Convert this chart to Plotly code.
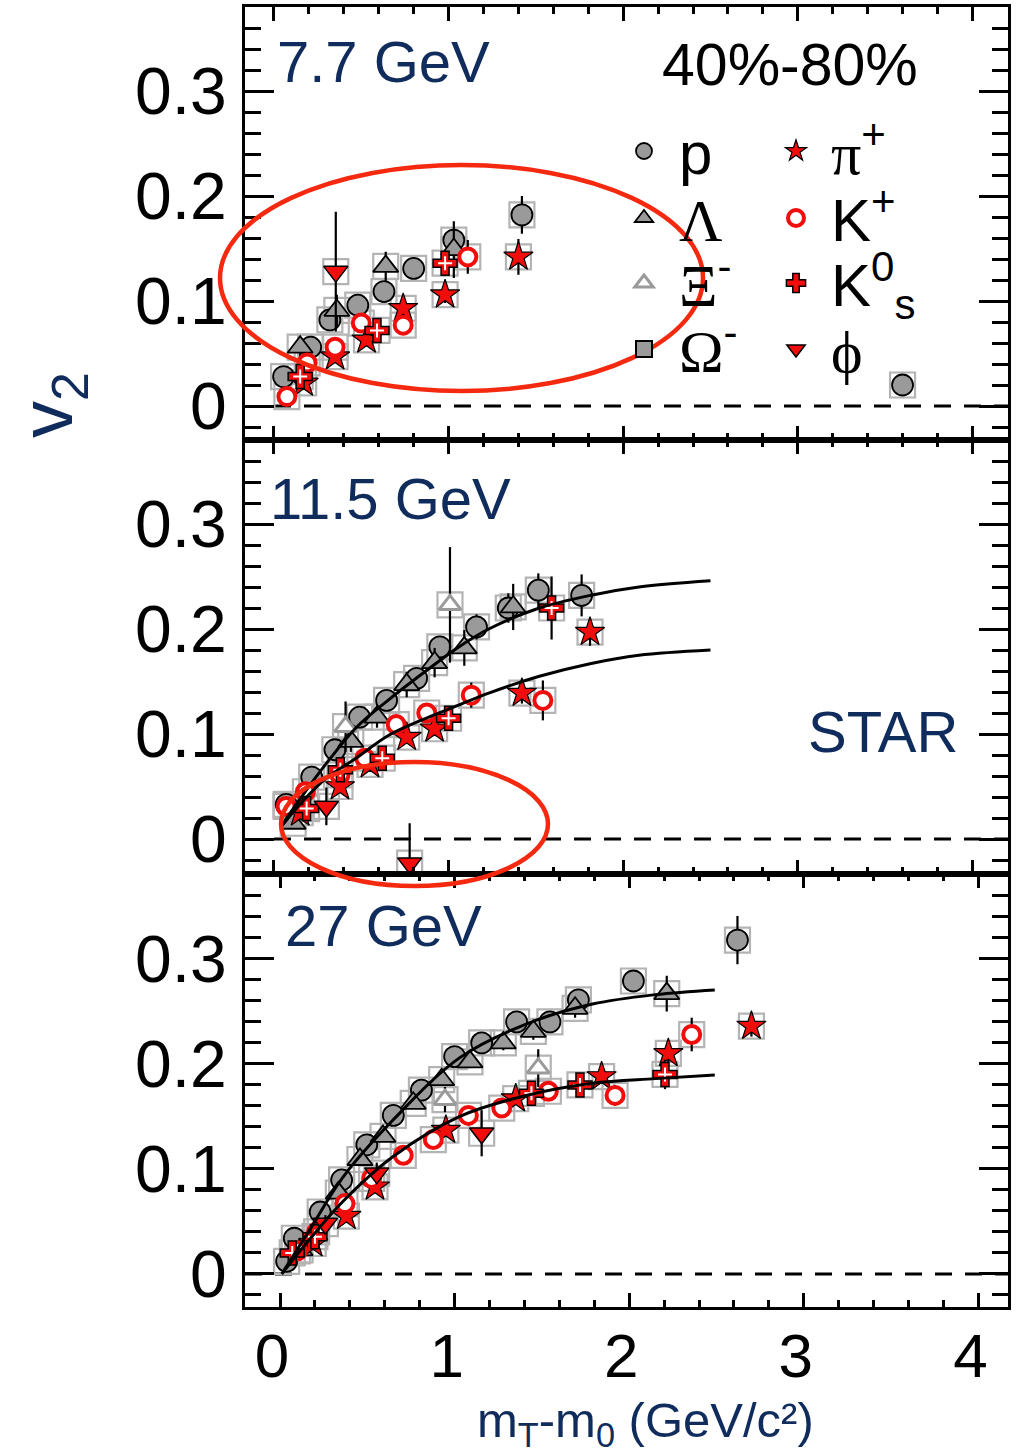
import plotly.graph_objects as go

# ---------------- data: 7.7 GeV ----------------
p77_p_x = [0.055, 0.21, 0.32, 0.48, 0.63, 0.80, 1.03, 1.42, 3.60]
p77_p_y = [0.028, 0.056, 0.082, 0.096, 0.109, 0.131, 0.158, 0.182, 0.020]
p77_p_e = [0.005, 0.006, 0.008, 0.008, 0.008, 0.008, 0.010, 0.018, 0.010]
p77_lam_x = [0.15, 0.36, 0.64, 1.03]
p77_lam_y = [0.056, 0.091, 0.133, 0.149]
p77_lam_e = [0.010, 0.015, 0.014, 0.027]
p77_pi_x = [0.17, 0.35, 0.53, 0.74, 0.98, 1.40]
p77_pi_y = [0.022, 0.047, 0.063, 0.093, 0.106, 0.142]
p77_pi_e = [0.004, 0.005, 0.005, 0.006, 0.008, 0.017]
p77_kp_x = [0.074, 0.19, 0.35, 0.50, 0.74, 1.11]
p77_kp_y = [0.009, 0.041, 0.056, 0.079, 0.077, 0.142]
p77_kp_e = [0.003, 0.004, 0.005, 0.006, 0.006, 0.016]
p77_k0_x = [0.15, 0.59, 0.98]
p77_k0_y = [0.028, 0.072, 0.136]
p77_k0_e = [0.005, 0.008, 0.012]
p77_phi_x = [0.354]
p77_phi_y = [0.128]
p77_phi_e = [0.057]

# ---------------- data: 11.5 GeV ----------------
p115_p_x = [0.07, 0.216, 0.349, 0.49, 0.645, 0.817, 0.95, 1.16, 1.342, 1.514, 1.762]
p115_p_y = [0.033, 0.059, 0.085, 0.116, 0.132, 0.153, 0.183, 0.202, 0.220, 0.237, 0.232]
p115_p_e = [0.004, 0.005, 0.006, 0.007, 0.008, 0.009, 0.010, 0.012, 0.014, 0.016, 0.020]
p115_lam_x = [0.11, 0.44, 0.59, 0.76, 0.92, 1.09, 1.37]
p115_lam_y = [0.015, 0.093, 0.116, 0.147, 0.168, 0.182, 0.221]
p115_lam_e = [0.005, 0.010, 0.010, 0.012, 0.014, 0.017, 0.022]
p115_xi_x = [0.41, 1.008]
p115_xi_y = [0.107, 0.223]
p115_xi_e = [0.024, 0.055]
p115_pi_x = [0.15, 0.378, 0.55, 0.76, 0.92, 1.42, 1.81]
p115_pi_y = [0.025, 0.050, 0.071, 0.097, 0.105, 0.139, 0.197]
p115_pi_e = [0.003, 0.004, 0.005, 0.006, 0.007, 0.010, 0.013]
p115_kp_x = [0.069, 0.18, 0.378, 0.52, 0.70, 0.875, 1.13, 1.54]
p115_kp_y = [0.031, 0.045, 0.061, 0.077, 0.109, 0.120, 0.137, 0.132]
p115_kp_e = [0.004, 0.005, 0.006, 0.007, 0.008, 0.009, 0.012, 0.019]
p115_k0_x = [0.187, 0.38, 0.62, 1.00, 1.59]
p115_k0_y = [0.029, 0.066, 0.077, 0.115, 0.220]
p115_k0_e = [0.004, 0.006, 0.008, 0.010, 0.030]
p115_phi_x = [0.30, 0.777]
p115_phi_y = [0.031, -0.023]
p115_phi_e = [0.018, 0.038]
fit115_x = [0.04, 0.17, 0.30, 0.47, 0.66, 0.87, 1.05, 1.23, 1.52, 1.81, 2.09, 2.50]
fit115_bary_y = [0.012, 0.043, 0.072, 0.106, 0.133, 0.160, 0.182, 0.200, 0.220, 0.232, 0.240, 0.246]
fit115_meson_y = [0.012, 0.037, 0.058, 0.077, 0.099, 0.115, 0.127, 0.139, 0.155, 0.167, 0.175, 0.180]

# ---------------- data: 27 GeV ----------------
p27_p_x = [0.038, 0.082, 0.23, 0.353, 0.497, 0.649, 0.81, 1.00, 1.155, 1.355, 1.546, 1.709, 2.024, 2.62]
p27_p_y = [0.012, 0.034, 0.059, 0.0895, 0.123, 0.151, 0.175, 0.207, 0.220, 0.240, 0.240, 0.261, 0.279, 0.318]
p27_p_e = [0.002, 0.002, 0.003, 0.003, 0.004, 0.004, 0.005, 0.005, 0.006, 0.006, 0.007, 0.008, 0.010, 0.023]
p27_lam_x = [0.115, 0.334, 0.458, 0.59, 0.763, 0.926, 1.088, 1.279, 1.451, 1.69, 2.215]
p27_lam_y = [0.023, 0.077, 0.109, 0.131, 0.1625, 0.185, 0.202, 0.220, 0.231, 0.253, 0.267]
p27_lam_e = [0.003, 0.004, 0.004, 0.005, 0.005, 0.006, 0.006, 0.007, 0.008, 0.009, 0.017]
p27_xi_x = [0.945, 1.479]
p27_xi_y = [0.166, 0.196]
p27_xi_e = [0.012, 0.018]
p27_pi_x = [0.19, 0.38, 0.544, 0.95, 1.35, 1.842, 2.224, 2.70]
p27_pi_y = [0.029, 0.055, 0.083, 0.137, 0.167, 0.188, 0.210, 0.236]
p27_pi_e = [0.002, 0.003, 0.003, 0.005, 0.006, 0.007, 0.009, 0.010]
p27_kp_x = [0.10, 0.21, 0.372, 0.525, 0.706, 0.878, 1.079, 1.27, 1.537, 1.919, 2.358]
p27_kp_y = [0.022, 0.040, 0.067, 0.091, 0.113, 0.128, 0.151, 0.158, 0.174, 0.170, 0.228]
p27_kp_e = [0.002, 0.003, 0.003, 0.004, 0.004, 0.005, 0.006, 0.007, 0.008, 0.010, 0.016]
p27_k0_x = [0.07, 0.20, 1.44, 1.718, 2.205]
p27_k0_y = [0.020, 0.0355, 0.172, 0.180, 0.190]
p27_k0_e = [0.002, 0.003, 0.006, 0.007, 0.014]
p27_phi_x = [0.26, 0.554, 1.155]
p27_phi_y = [0.048, 0.096, 0.134]
p27_phi_e = [0.008, 0.010, 0.022]
fit27_x = [0.01, 0.17, 0.36, 0.65, 1.03, 1.41, 1.79, 2.15, 2.49]
fit27_bary_y = [0.0, 0.042, 0.092, 0.147, 0.206, 0.238, 0.257, 0.266, 0.2705]
fit27_meson_y = [0.0, 0.033, 0.069, 0.112, 0.150, 0.170, 0.1816, 0.186, 0.1895]

energy_labels = ["7.7 GeV", "11.5 GeV", "27 GeV"]
centrality_label = "40%-80%"
experiment_label = "STAR"
x_title = "m<sub>T</sub>-m<sub>0</sub> (GeV/c²)"
y_title = "v<sub>2</sub>"

# ---------------- styling ----------------
FONT = "Liberation Sans, Arial, Helvetica, sans-serif"
SERIF = "Liberation Serif"
NAVY = "#0f2c5c"
GRAY = "#9a9a9a"
RED = "#f20d0d"
SYS = "#b4b4b4"

W, H = 1025, 1454
ML, MR, MT, MB = 245, 17, 7, 147
PW, PH = W - ML - MR, H - MT - MB


def pxx(X):
    return (X - ML) / PW


def pxy(Y):
    return 1 - (Y - MT) / PH


def grk(s):
    return "<span style='font-family:%s'>%s</span>" % (SERIF, s)


SP = "\u2005"
styles = {
    "p": dict(name=SP + "p", symbol="circle", color=GRAY, lc="black", lw=1.8, size=21),
    "lam": dict(name=SP + grk("Λ"), symbol="triangle-up", color=GRAY, lc="black", lw=1.8, size=22),
    "xi": dict(name=SP + grk("Ξ") + "<sup>-</sup>", symbol="triangle-up", color="white", lc=GRAY, lw=3, size=19),
    "om": dict(name=SP + grk("Ω") + "<sup>-</sup>", symbol="square", color=GRAY, lc="black", lw=2, size=18),
    "pi": dict(name=SP + grk("π") + "<sup>+</sup>", symbol="star", color=RED, lc="black", lw=1.2, size=22),
    "kp": dict(name=SP + "K<sup>+</sup>", symbol="circle", color="white", lc=RED, lw=4, size=17),
    "k0": dict(name=SP + "K<sup>0</sup><sub>s</sub>", symbol="cross", color=RED, lc="black", lw=1.5, size=20),
    "phi": dict(name=SP + grk("ϕ"), symbol="triangle-down", color=RED, lc="black", lw=1.5, size=21),
}
legend_slot = {"p": "legend", "lam": "legend2", "xi": "legend3", "om": "legend4",
               "pi": "legend5", "kp": "legend6", "k0": "legend7", "phi": "legend8"}

fig = go.Figure()

panels = [
    ("x", "y", {
        "p": (p77_p_x, p77_p_y, p77_p_e), "lam": (p77_lam_x, p77_lam_y, p77_lam_e),
        "xi": ([None], [None], [0]), "om": ([None], [None], [0]),
        "pi": (p77_pi_x, p77_pi_y, p77_pi_e), "kp": (p77_kp_x, p77_kp_y, p77_kp_e),
        "k0": (p77_k0_x, p77_k0_y, p77_k0_e), "phi": (p77_phi_x, p77_phi_y, p77_phi_e)}, None),
    ("x2", "y2", {
        "p": (p115_p_x, p115_p_y, p115_p_e), "lam": (p115_lam_x, p115_lam_y, p115_lam_e),
        "xi": (p115_xi_x, p115_xi_y, p115_xi_e),
        "pi": (p115_pi_x, p115_pi_y, p115_pi_e), "kp": (p115_kp_x, p115_kp_y, p115_kp_e),
        "k0": (p115_k0_x, p115_k0_y, p115_k0_e), "phi": (p115_phi_x, p115_phi_y, p115_phi_e)},
     (fit115_x, fit115_bary_y, fit115_meson_y)),
    ("x3", "y3", {
        "p": (p27_p_x, p27_p_y, p27_p_e), "lam": (p27_lam_x, p27_lam_y, p27_lam_e),
        "xi": (p27_xi_x, p27_xi_y, p27_xi_e),
        "pi": (p27_pi_x, p27_pi_y, p27_pi_e), "kp": (p27_kp_x, p27_kp_y, p27_kp_e),
        "k0": (p27_k0_x, p27_k0_y, p27_k0_e), "phi": (p27_phi_x, p27_phi_y, p27_phi_e)},
     (fit27_x, fit27_bary_y, fit27_meson_y)),
]

for pi_, (xa, ya, species, fit) in enumerate(panels):
    for key, (xs, ys, es) in species.items():
        if xs == [None]:
            continue
        fig.add_trace(go.Scatter(x=xs, y=ys, mode="markers", xaxis=xa, yaxis=ya, showlegend=False,
                                 hoverinfo="skip",
                                 marker=dict(symbol="square-open", size=25, color=SYS,
                                             line=dict(color=SYS, width=2.2))))
    for key in ["p", "lam", "xi", "om", "pi", "kp", "k0", "phi"]:
        if key not in species:
            continue
        xs, ys, es = species[key]
        st = styles[key]
        fig.add_trace(go.Scatter(
            x=xs, y=ys, mode="markers", xaxis=xa, yaxis=ya, name=st["name"],
            showlegend=(pi_ == 0), legend=legend_slot[key],
            error_y=dict(type="data", array=es, visible=True, color="black", thickness=2.2, width=0),
            marker=dict(symbol=st["symbol"], size=st["size"], color=st["color"],
                        line=dict(color=st["lc"], width=st["lw"]))))
        if key == "k0" and xs != [None]:
            fig.add_trace(go.Scatter(x=xs, y=ys, mode="markers", xaxis=xa, yaxis=ya, showlegend=False,
                                     hoverinfo="skip",
                                     marker=dict(symbol="cross-thin", size=10,
                                                 line=dict(color="white", width=2))))
    if fit is not None:
        fx, fb, fm = fit
        for fy in (fb, fm):
            fig.add_trace(go.Scatter(x=fx, y=fy, mode="lines", xaxis=xa, yaxis=ya, showlegend=False,
                                     hoverinfo="skip", line=dict(color="black", width=3, shape="spline")))

# ---------------- axes ----------------
span = 0.4127
y_tops = [0.380, 0.3797, 0.3812]
doms = [[2 / 3, 1], [1 / 3, 2 / 3], [0, 1 / 3]]
x_ranges = [[-0.166, 4.204], [-0.166, 4.204], [-0.2005, 4.1695]]

yminor = dict(dtick=0.02, tick0=0, ticks="inside", ticklen=16, tickwidth=2.5,
              tickcolor="black", showgrid=False)
xminor = dict(dtick=0.2, tick0=0, ticks="inside", ticklen=7, tickwidth=2.5,
              tickcolor="black", showgrid=False)
ymain = dict(tick0=0, dtick=0.1, ticks="inside", ticklen=29, tickwidth=3, tickcolor="black",
             showline=True, linewidth=3, linecolor="black", mirror="ticks", showgrid=False,
             zeroline=False, tickfont=dict(size=66, color="black", family=FONT), ticklabelstandoff=2,
             minor=yminor)
xmain = dict(tick0=0, dtick=1, ticks="inside", ticklen=14, tickwidth=3, tickcolor="black",
             showline=True, linewidth=3, linecolor="black", mirror="ticks", showgrid=False,
             zeroline=False, tickfont=dict(size=62, color="black", family=FONT), ticklabelstandoff=-7,
             minor=xminor)

layout_axes = {}
for i in range(3):
    sfx = "" if i == 0 else str(i + 1)
    rng = [y_tops[i] - span, y_tops[i]]
    layout_axes["yaxis" + sfx] = dict(ymain, domain=doms[i], range=rng, anchor="x" + sfx)
    layout_axes["xaxis" + sfx] = dict(xmain, domain=[0, 1], range=x_ranges[i], anchor="y" + sfx,
                                      showticklabels=(i == 2), ticklabelshift=-8)

# ---------------- shapes ----------------
shapes = []
for i in range(3):
    sfx = "" if i == 0 else str(i + 1)
    if i < 2:
        shapes.append(dict(type="line", xref="x" + sfx, yref="y" + sfx, x0=0, x1=x_ranges[i][1],
                           y0=0, y1=0, layer="below",
                           line=dict(color="black", width=3, dash="17px,13px")))
    else:
        shapes.append(dict(type="line", xref="x3 domain", yref="y3", x0=0, x1=1, y0=0, y1=0,
                           layer="below", line=dict(color="black", width=3, dash="17px,13px")))
shapes.append(dict(type="circle", xref="paper", yref="paper", x0=pxx(220), x1=pxx(703),
                   y0=pxy(391), y1=pxy(165), layer="above", line=dict(color="#f5290f", width=4.5)))
shapes.append(dict(type="circle", xref="paper", yref="paper", x0=pxx(281), x1=pxx(548),
                   y0=pxy(886), y1=pxy(762), layer="above", line=dict(color="#f5290f", width=4.5)))

# ---------------- annotations ----------------
ann = []
ann.append(dict(text=energy_labels[0], x=pxx(275), y=pxy(62), xref="paper", yref="paper",
                xanchor="left", yanchor="middle", showarrow=False, font=dict(size=58, color=NAVY, family=FONT)))
ann.append(dict(text=energy_labels[1], x=pxx(268), y=pxy(499), xref="paper", yref="paper",
                xanchor="left", yanchor="middle", showarrow=False, font=dict(size=58, color=NAVY, family=FONT)))
ann.append(dict(text=energy_labels[2], x=pxx(283), y=pxy(926), xref="paper", yref="paper",
                xanchor="left", yanchor="middle", showarrow=False, font=dict(size=58, color=NAVY, family=FONT)))
ann.append(dict(text=centrality_label, x=pxx(660), y=pxy(65), xref="paper", yref="paper",
                xanchor="left", yanchor="middle", showarrow=False, font=dict(size=59, color="black", family=FONT)))
ann.append(dict(text=experiment_label, x=pxx(806), y=pxy(731), xref="paper", yref="paper",
                xanchor="left", yanchor="middle", showarrow=False, font=dict(size=58, color=NAVY, family=FONT)))
ann.append(dict(text=x_title, x=pxx(645), y=pxy(1423), xref="paper", yref="paper",
                xanchor="center", yanchor="middle", showarrow=False, font=dict(size=49, color=NAVY, family=FONT)))
ann.append(dict(text=y_title, x=pxx(52), y=pxy(405), xref="paper", yref="paper", textangle=-90,
                xanchor="center", yanchor="middle", showarrow=False, font=dict(size=74, color=NAVY, family=FONT)))

# ---------------- legends (one per entry) ----------------
leg_rows = [151, 218, 283, 349]
leg_cols = [646, 798]
legends = {}
order = ["p", "lam", "xi", "om", "pi", "kp", "k0", "phi"]
for k, key in enumerate(order):
    col = k // 4
    row = k % 4
    legends[legend_slot[key]] = dict(x=pxx(leg_cols[col] - 22), y=pxy(leg_rows[row]), xanchor="left",
                                     yanchor="middle", bgcolor="rgba(0,0,0,0)", borderwidth=0,
                                     font=dict(size=60, color="black", family=FONT), itemsizing="trace")

fig.update_layout(
    width=W, height=H, margin=dict(l=ML, r=MR, t=MT, b=MB, autoexpand=False),
    paper_bgcolor="white", plot_bgcolor="white", showlegend=True,
    shapes=shapes, annotations=ann, **layout_axes, **legends)

fig.write_html("out.html")
